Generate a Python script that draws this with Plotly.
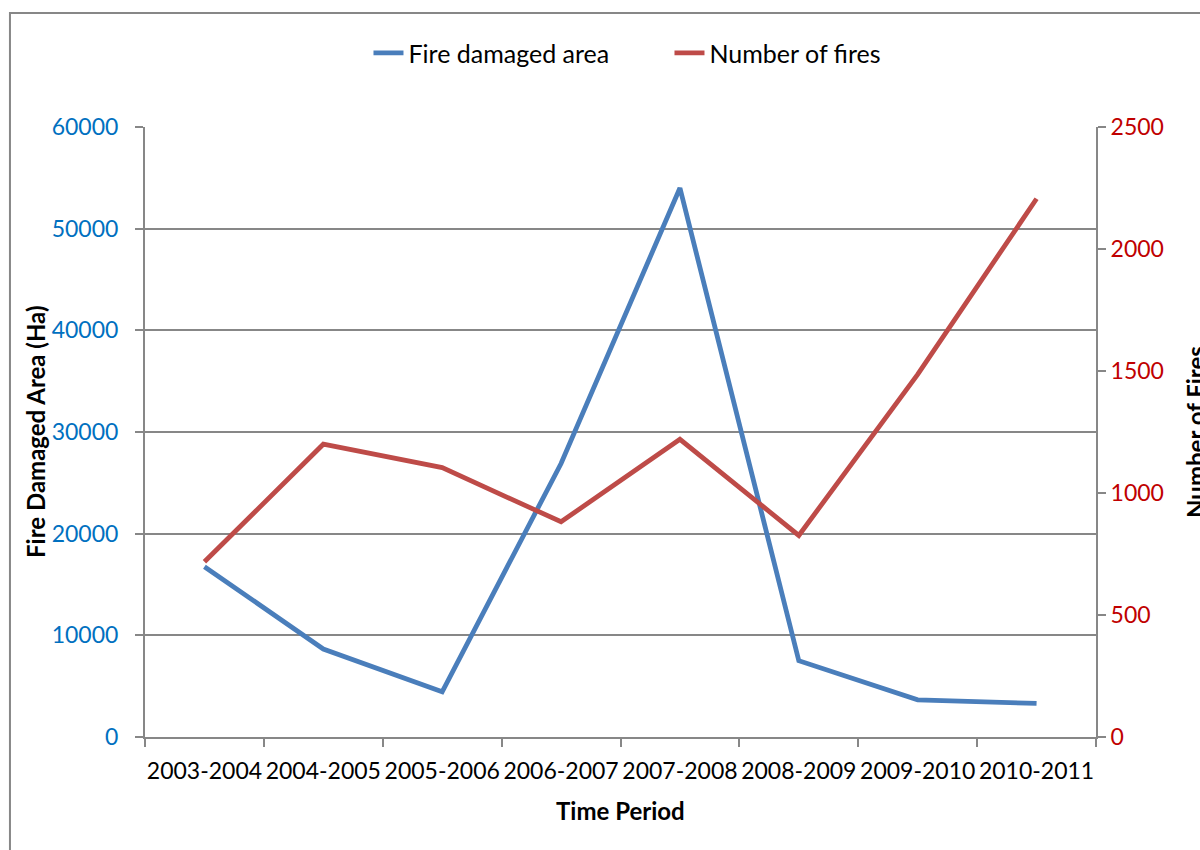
import plotly.graph_objects as go

periods = ["2003-2004", "2004-2005", "2005-2006", "2006-2007",
           "2007-2008", "2008-2009", "2009-2010", "2010-2011"]
damaged_area = [16750, 8650, 4450, 26900, 54000, 7500, 3650, 3300]
num_fires = [718, 1200, 1104, 882, 1220, 826, 1486, 2206]

FONT = "Lato"
GRID = "#878787"

fig = go.Figure()
fig.add_trace(go.Scatter(x=periods, y=damaged_area, mode="lines",
                         name="Fire damaged area",
                         line=dict(color="#4A7EBB", width=4.8)))
fig.add_trace(go.Scatter(x=periods, y=num_fires, mode="lines",
                         name="Number of fires", yaxis="y2",
                         line=dict(color="#BE4B48", width=4.8)))

fig.update_layout(
    width=1200, height=850,
    margin=dict(l=145, r=104, t=127, b=113, autoexpand=False),
    paper_bgcolor="white", plot_bgcolor="white",
    font=dict(family=FONT, size=23, color="black"),
    showlegend=True,
    legend=dict(orientation="h", x=0.235, xanchor="left", y=1.121, yanchor="middle",
                font=dict(size=25), traceorder="normal",
                entrywidth=256, entrywidthmode="pixels"),
    xaxis=dict(type="category", range=[-0.5, len(periods) - 0.5], tickangle=0,
               showline=True, linecolor=GRID, linewidth=2,
               ticks="outside", tickson="boundaries", ticklen=8, tickcolor=GRID, tickwidth=2,
               showgrid=False, tickfont=dict(size=23, color="black"),
               ticklabelstandoff=12, automargin=False),
    yaxis=dict(range=[0, 60000], dtick=10000, tickformat="d",
               showline=True, linecolor=GRID, linewidth=2,
               ticks="outside", ticklen=8, tickcolor=GRID, tickwidth=2,
               showgrid=True, gridcolor=GRID, gridwidth=1.5, zeroline=False,
               tickfont=dict(size=23, color="#0070C0"), ticklabelstandoff=12,
               automargin=False),
    yaxis2=dict(range=[0, 2500], dtick=500, tickformat="d", overlaying="y", side="right",
                showline=True, linecolor=GRID, linewidth=2,
                ticks="outside", ticklen=8, tickcolor=GRID, tickwidth=2,
                showgrid=False, zeroline=False,
                tickfont=dict(size=23, color="#C00000"), automargin=False),
)

# outer chart border (cropped at right and bottom)
fig.add_shape(type="rect", xref="paper", yref="paper",
              x0=-0.142, x1=1.25, y0=-0.3, y1=1.187,
              line=dict(color=GRID, width=2), layer="below")

fig.add_annotation(text="<b>Time Period</b>", xref="paper", yref="paper",
                   x=0.5, y=-0.12, showarrow=False, yanchor="middle",
                   font=dict(size=24))
fig.add_annotation(text="<b>Fire Damaged Area (Ha)</b>", xref="paper", yref="paper",
                   x=-0.1157, y=0.5, showarrow=False, textangle=-90,
                   xanchor="center", yanchor="middle", font=dict(size=24))
fig.add_annotation(text="<b>Number of Fires</b>", xref="paper", yref="paper",
                   x=1.104, y=0.5, showarrow=False, textangle=-90,
                   xanchor="center", yanchor="middle", font=dict(size=24))

fig.write_html("out.html", config={"displayModeBar": False},
               post_script="document.body.style.margin='0';")
